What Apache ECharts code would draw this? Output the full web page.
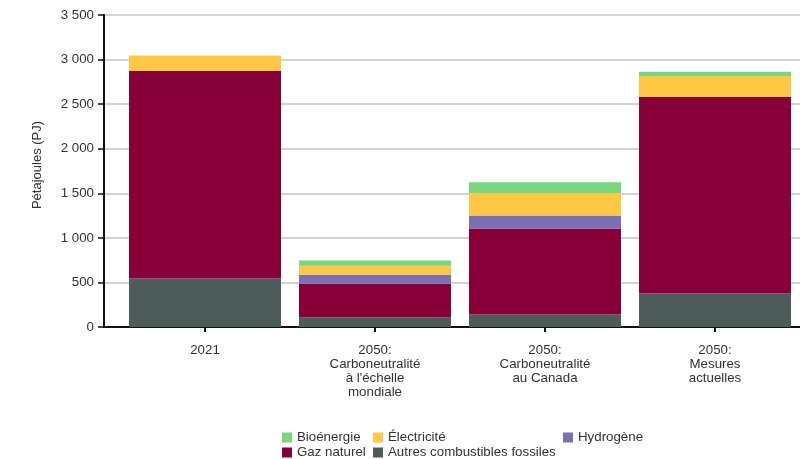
<!DOCTYPE html>
<html>
<head>
<meta charset="utf-8">
<script src="https://cdn.jsdelivr.net/npm/echarts@6/dist/echarts.min.js"></script>
<style>html,body{margin:0;padding:0;background:#fff}#c{width:800px;height:459px}</style>
</head>
<body>
<div id="c"></div>
<script>
const categories = ["2021", "2050:\nCarboneutralité\nà l'échelle\nmondiale", "2050:\nCarboneutralité\nau Canada", "2050:\nMesures\nactuelles"];
const autresFossiles = [547, 109, 139, 375];
const gazNaturel = [2324, 375, 967, 2204];
const hydrogene = [0, 101, 146, 0];
const electricite = [176, 101, 251, 236];
const bioenergie = [0, 60, 120, 49];
const yTicks = { min: 0, max: 3500, interval: 500 };

const font = "Liberation Sans, Arial, sans-serif";
const chart = echarts.init(document.getElementById('c'), null, { renderer: 'canvas' });
function fmt(v) { return String(v).replace(/\B(?=(\d{3})+(?!\d))/g, ' '); }
function bar(name, data, color) {
  return { name, type: 'bar', stack: 'total', data, xAxisIndex: 1, yAxisIndex: 1,
    barWidth: 152, itemStyle: { color }, emphasis: { disabled: true } };
}
const legendText = { color: '#333', fontSize: 13.3 };
chart.setOption({
  animation: false,
  textStyle: { fontFamily: font },
  grid: [
    { left: 104, top: 15, width: 696, height: 312 },
    { left: 120, top: 15, width: 680, height: 312 }
  ],
  xAxis: [
    { type: 'value', gridIndex: 0, min: 0, max: 1, axisLine: { show: true, onZero: false, lineStyle: { color: '#111', width: 2 } },
      axisTick: { show: false }, axisLabel: { show: false }, splitLine: { show: false } },
    { type: 'category', gridIndex: 1, data: categories,
      axisLine: { show: false }, axisTick: { show: true, alignWithLabel: true, length: 5, lineStyle: { color: '#111', width: 2 } },
      axisLabel: { color: '#333', fontSize: 13.3, lineHeight: 14, margin: 16, interval: 0 } }
  ],
  yAxis: [
    { type: 'value', gridIndex: 0, min: yTicks.min, max: yTicks.max, interval: yTicks.interval,
      name: 'Pétajoules (PJ)', nameLocation: 'middle', nameGap: 60, nameRotate: 90,
      nameTextStyle: { color: '#333', fontSize: 13, padding: [0, 0, 0, 12] },
      axisLine: { show: true, lineStyle: { color: '#111', width: 2 } },
      axisTick: { show: true, length: 6, lineStyle: { color: '#111', width: 1.5 } },
      axisLabel: { color: '#333', fontSize: 13.3, margin: 10, formatter: fmt },
      splitLine: { show: true, lineStyle: { color: '#c4c4c4', width: 1.5 } } },
    { type: 'value', gridIndex: 1, min: yTicks.min, max: yTicks.max, interval: yTicks.interval, show: false, splitLine: { show: false } }
  ],
  legend: [
    { data: ['Bioénergie', 'Gaz naturel'], orient: 'vertical', left: 282, top: 431, itemWidth: 10, itemHeight: 10, itemGap: 2,
      textStyle: legendText, selectedMode: false, icon: 'rect', padding: 0 },
    { data: ['Électricité', 'Autres combustibles fossiles'], orient: 'vertical', left: 373, top: 431, itemWidth: 10, itemHeight: 10, itemGap: 2,
      textStyle: legendText, selectedMode: false, icon: 'rect', padding: 0 },
    { data: ['Hydrogène'], orient: 'vertical', left: 563, top: 431, itemWidth: 10, itemHeight: 10, itemGap: 2,
      textStyle: legendText, selectedMode: false, icon: 'rect', padding: 0 }
  ],
  series: [
    bar('Autres combustibles fossiles', autresFossiles, '#4d5c5a'),
    bar('Gaz naturel', gazNaturel, '#870037'),
    bar('Hydrogène', hydrogene, '#7a6fb2'),
    bar('Électricité', electricite, '#ffc844'),
    bar('Bioénergie', bioenergie, '#78d67e')
  ]
});
</script>
</body>
</html>
